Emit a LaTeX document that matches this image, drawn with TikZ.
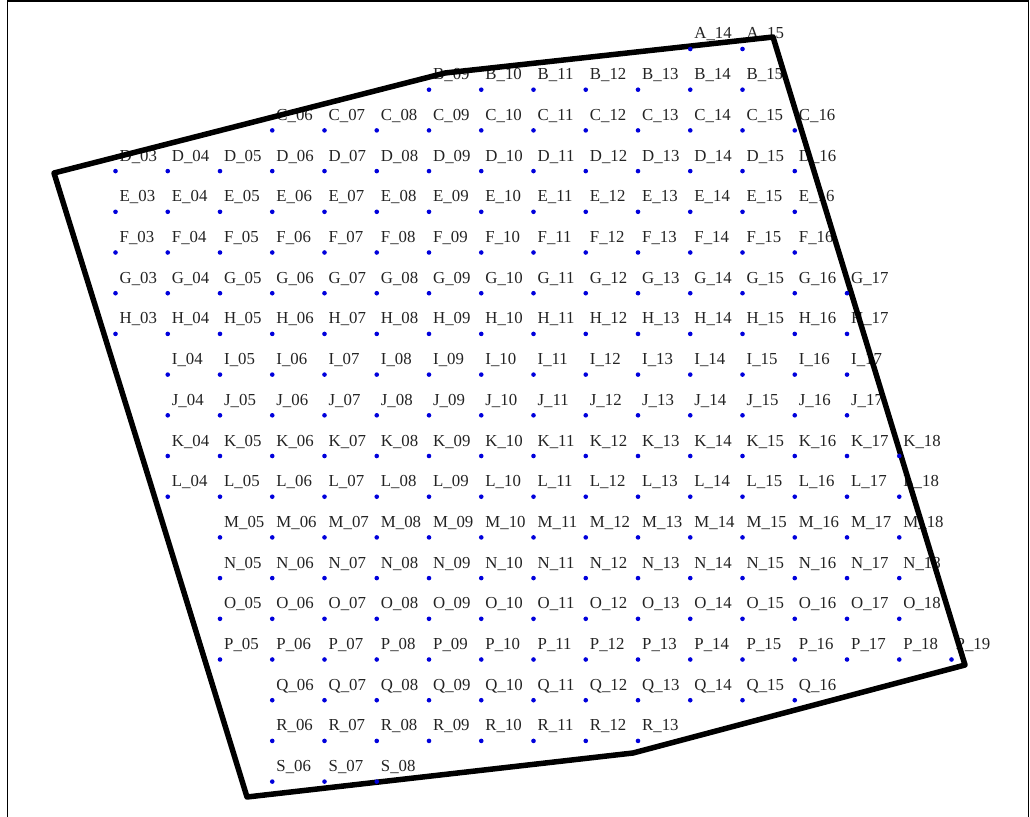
\documentclass[tikz,border=0pt]{standalone}
\usepackage{fontspec}
\setmainfont{Liberation Serif}
\definecolor{lblgray}{RGB}{35,35,35}
\definecolor{dotblue}{RGB}{0,0,220}
\newcommand{\twodig}[1]{\ifnum#1<10 0\fi#1}
\tikzset{
  lbl/.style={inner sep=0pt, anchor=base west, text=lblgray, font=\fontsize{16.8}{18}\selectfont},
  gridpt/.style={circle, fill=dotblue, inner sep=0pt, minimum size=4.6pt},
  boundary/.style={line width=5.5pt, line join=round, black},
  frameline/.style={line width=1.6pt, black}
}
\begin{document}
\begin{tikzpicture}[x=1pt,y=-1pt]
\useasboundingbox (0,0) rectangle (1030,816);
% frame
\coordinate (f1) at (7.3,830);
\coordinate (f2) at (7.3,1);
\coordinate (f3) at (1028.5,1);
\coordinate (f4) at (1028.5,830);
\draw[frameline] (f1) -- (f2) -- (f3) -- (f4);
% grid coordinates and labels
\foreach \r/\i/\a/\b in {A/0/14/15, B/1/9/15, C/2/6/16, D/3/3/16, E/4/3/16, F/5/3/16, G/6/3/17, H/7/3/17, I/8/4/17, J/9/4/17, K/10/4/18, L/11/4/18, M/12/5/18, N/13/5/18, O/14/5/18, P/15/5/19, Q/16/6/16, R/17/6/13, S/18/6/8}{
  \foreach \c in {\a,...,\b}{
    \coordinate (p\r\c) at ({115.5+(\c-3)*52.25},{49+\i*40.7});
    \node[lbl] (l\r\c) at ([xshift=4pt,yshift=10pt]p\r\c) {\r\_\twodig{\c}};
  }
}
% boundary polygon
\coordinate (v1) at (54,173);
\coordinate (v2) at (445,73);
\coordinate (v3) at (773,37);
\coordinate (v4) at (965,665);
\coordinate (v5) at (633,753);
\coordinate (v6) at (247,797);
\coordinate (v7) at (150,482);
\draw[boundary] (v1) -- (v2) -- (v3) -- (v4) -- (v5) -- (v6) -- (v7) -- cycle;
% dots
\foreach \r/\i/\a/\b in {A/0/14/15, B/1/9/15, C/2/6/16, D/3/3/16, E/4/3/16, F/5/3/16, G/6/3/17, H/7/3/17, I/8/4/17, J/9/4/17, K/10/4/18, L/11/4/18, M/12/5/18, N/13/5/18, O/14/5/18, P/15/5/19, Q/16/6/16, R/17/6/13, S/18/6/8}{
  \foreach \c in {\a,...,\b}{
    \node[gridpt] (d\r\c) at (p\r\c) {};
  }
}
\end{tikzpicture}
\end{document}
